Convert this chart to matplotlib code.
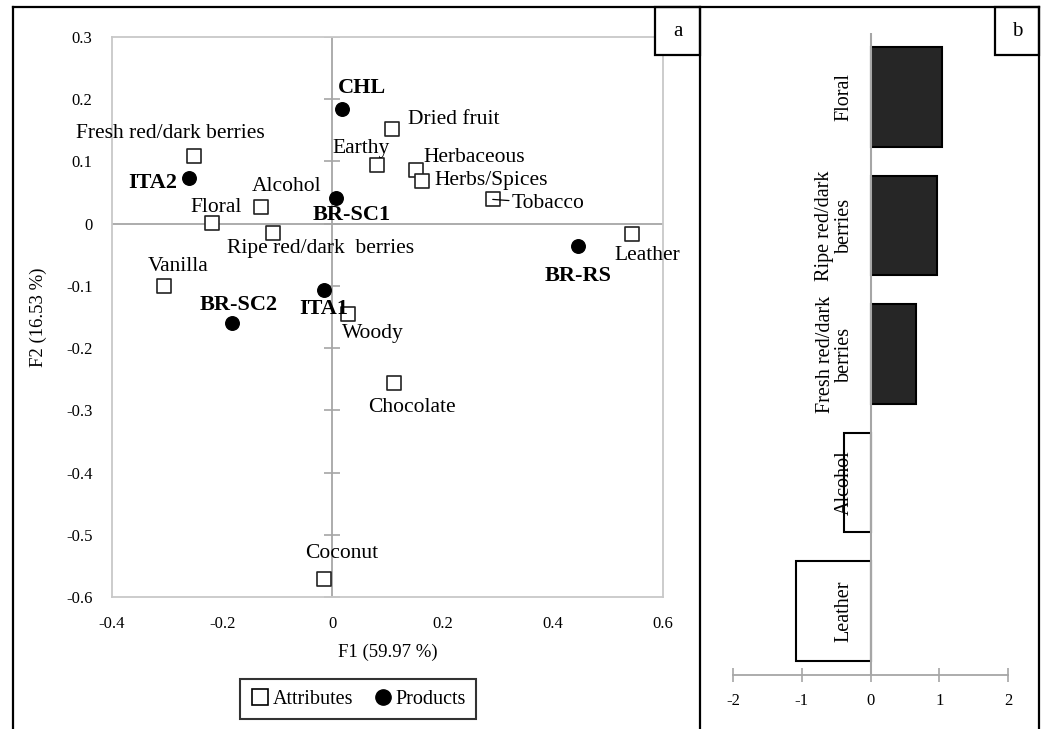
import numpy as np
import matplotlib.pyplot as plt
from matplotlib.lines import Line2D
from matplotlib.patches import Rectangle

plt.rcParams['font.family'] = ['Liberation Serif', 'DejaVu Serif']
plt.rcParams['axes.unicode_minus'] = False

# panel a: attributes (squares)
attr_names = ['Fresh red/dark berries', 'Dried fruit', 'Earthy', 'Herbaceous', 'Herbs/Spices',
              'Tobacco', 'Alcohol', 'Floral', 'Ripe red/dark  berries', 'Vanilla', 'Woody',
              'Leather', 'Chocolate', 'Coconut']
attr_x = [-0.251, 0.109, 0.081, 0.151, 0.162, 0.291, -0.129, -0.218, -0.107, -0.306, 0.029,
          0.544, 0.112, -0.015]
attr_y = [0.108, 0.152, 0.095, 0.086, 0.068, 0.039, 0.026, 0.001, -0.015, -0.100, -0.145,
          -0.017, -0.256, -0.571]

# panel a: products (circles)
prod_names = ['CHL', 'ITA2', 'BR-SC1', 'BR-RS', 'ITA1', 'BR-SC2']
prod_x = [0.017, -0.260, 0.006, 0.446, -0.015, -0.182]
prod_y = [0.185, 0.074, 0.042, -0.036, -0.106, -0.160]

# panel b
bar_names = ['Floral', 'Ripe red/dark\nberries', 'Fresh red/dark\nberries', 'Alcohol', 'Leather']
bar_vals = [1.04, 0.96, 0.66, -0.38, -1.09]

# label offsets in pixels (dx, dy), text left-aligned
attr_off = {'Fresh red/dark berries': (-118, 23), 'Dried fruit': (16, 10), 'Earthy': (-45, 16),
            'Herbaceous': (8, 13), 'Herbs/Spices': (13, 1), 'Tobacco': (19, -4),
            'Alcohol': (-10, 21), 'Floral': (-22, 16), 'Ripe red/dark  berries': (-46, -15),
            'Vanilla': (-16, 19), 'Woody': (-6, -20), 'Leather': (-18, -21),
            'Chocolate': (-26, -25), 'Coconut': (-19, 25)}
prod_off = {'CHL': (-4, 21), 'ITA2': (-61, -5), 'BR-SC1': (-23, -17), 'BR-RS': (-34, -30),
            'ITA1': (-25, -19), 'BR-SC2': (-32, 18)}

W, H = 1048, 729
fig = plt.figure(figsize=(W / 100, H / 100), dpi=100)
grey = '#a6a6a6'

# ---- panel a
ax = fig.add_axes([112 / W, 1 - 597 / H, 551 / W, 560 / H])
ax.set_xlim(-0.4, 0.6)
ax.set_ylim(-0.6, 0.3)
for s in ax.spines.values():
    s.set_color('#c8c8c8')
    s.set_linewidth(1.3)
ax.axhline(0, color=grey, lw=1.3, zorder=1)
ax.axvline(0, color=grey, lw=1.3, zorder=1)
yt = np.round(np.arange(-0.6, 0.31, 0.1), 1)
ax.set_yticks(yt)
ax.set_xticks(np.round(np.arange(-0.4, 0.61, 0.2), 1))
ax.set_yticklabels(['0' if v == 0 else f'{v:g}' for v in yt])
ax.set_xticklabels(['0' if v == 0 else f'{v:g}' for v in ax.get_xticks()])
ax.tick_params(length=0, labelsize=12, pad=14)
ax.plot(np.zeros(len(yt)), yt, ls='none', marker='_', ms=12, mew=1.2, color=grey, zorder=1)

ax.scatter(attr_x, attr_y, marker='s', s=110, facecolor='white', edgecolor='#222222',
           linewidth=1.2, zorder=3)
ax.scatter(prod_x, prod_y, marker='o', s=95, color='black', zorder=3)

for n, x, y in zip(attr_names, attr_x, attr_y):
    dx, dy = attr_off[n]
    arrow = dict(arrowstyle='-', color='black', lw=0.9, shrinkA=0, shrinkB=0) if n == 'Tobacco' else None
    ax.annotate(n, (x, y), xytext=(dx, dy), textcoords='offset pixels', ha='left', va='center',
                fontsize=15.5, arrowprops=arrow, zorder=4)
for n, x, y in zip(prod_names, prod_x, prod_y):
    dx, dy = prod_off[n]
    ax.annotate(n, (x, y), xytext=(dx, dy), textcoords='offset pixels', ha='left', va='center',
                fontsize=16, fontweight='bold', zorder=4)

ax.set_xlabel('F1 (59.97 %)', fontsize=13.5, labelpad=8)
ax.set_ylabel('F2 (16.53 %)', fontsize=13.5, labelpad=14)

handles = [Line2D([], [], ls='none', marker='s', ms=11, mfc='white', mec='black', mew=1.2),
           Line2D([], [], ls='none', marker='o', ms=11, color='black')]
leg = fig.legend(handles, ['Attributes', 'Products'], loc='center', ncol=2,
                 bbox_to_anchor=(358 / W, 1 - 699 / H), fontsize=14.5, frameon=True,
                 fancybox=False, edgecolor='black', handletextpad=0.1, columnspacing=1.0,
                 handlelength=1.0, borderpad=0.5)
leg.get_frame().set_linewidth(1.5)

# ---- panel b
bx = fig.add_axes([733 / W, 1 - 675 / H, 275 / W, 642 / H])
bx.set_xlim(-2, 2)
pos = np.arange(len(bar_vals))[::-1]
cols = ['#262626' if v > 0 else 'white' for v in bar_vals]
bx.barh(pos, bar_vals, height=0.775, color=cols, edgecolor='black', linewidth=1.5, zorder=2)
bx.set_ylim(-0.5, 4.5)
bx.axvline(0, color=grey, lw=1.5, zorder=3)
for s in ['left', 'right', 'top']:
    bx.spines[s].set_visible(False)
bx.spines['bottom'].set_color(grey)
bx.spines['bottom'].set_linewidth(1.3)
bx.set_yticks([])
bx.set_xticks([-2, -1, 0, 1, 2])
bx.set_xticklabels(['-2', '-1', '0', '1', '2'])
bx.tick_params(axis='x', direction='inout', length=10, color=grey, width=1.2, labelsize=12, pad=8)
for n, p in zip(bar_names, pos):
    bx.annotate(n, (0, p), xytext=(-17, 0), textcoords='offset pixels', rotation=90,
                ha='right', va='center', multialignment='center', fontsize=14.5,
                linespacing=1.0, zorder=4)

# ---- frames and panel letters
def fline(x0, y0, x1, y1):
    fig.add_artist(Line2D([x0 / W, x1 / W], [1 - y0 / H, 1 - y1 / H], color='black', lw=1.6))

fline(13, 7, 1039, 7)
fline(13, 7, 13, H)
fline(700, 7, 700, H)
fline(1039, 7, 1039, H)
for x0, x1, lab in [(655, 700, 'a'), (995, 1039, 'b')]:
    fig.add_artist(Rectangle((x0 / W, 1 - 55 / H), (x1 - x0) / W, 48 / H, transform=fig.transFigure,
                             facecolor='white', edgecolor='black', lw=1.6))
    fig.text((x0 + x1) / 2 / W, 1 - 31 / H, lab, ha='center', va='center', fontsize=15)

fig.savefig('out.png', dpi=100)
